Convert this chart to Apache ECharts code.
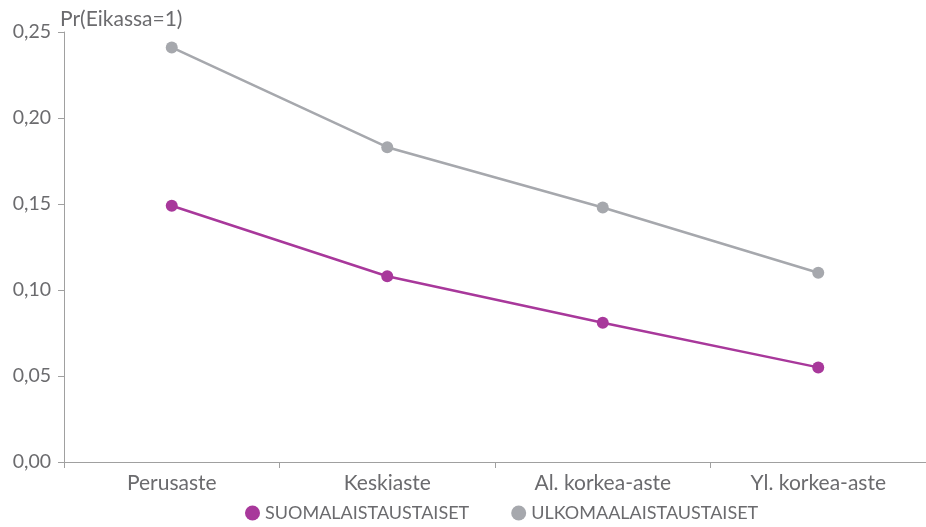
<!DOCTYPE html>
<html><head><meta charset="utf-8">
<script src="https://cdn.jsdelivr.net/npm/echarts@6/dist/echarts.min.js"></script>
<style>html,body{margin:0;padding:0;background:#fff}#c{width:926px;height:527px}</style>
</head><body><div id="c"></div>
<script>
const categories = ['Perusaste', 'Keskiaste', 'Al. korkea-aste', 'Yl. korkea-aste'];
const seriesNames = ['SUOMALAISTAUSTAISET', 'ULKOMAALAISTAUSTAISET'];
const suomalais = [0.149, 0.108, 0.081, 0.055];
const ulkomaalais = [0.241, 0.183, 0.148, 0.110];
const yTicks = [0, 0.05, 0.10, 0.15, 0.20, 0.25];
const yTitle = 'Pr(Eikassa=1)';

const FONT = 'Lato';
const TXT = '#6b6b6e';
const chart = echarts.init(document.getElementById('c'), null, {renderer: 'canvas'});
chart.setOption({
  animation: false,
  textStyle: {fontFamily: FONT},
  grid: {left: 64, right: 0, top: 32, bottom: 65},
  legend: {
    bottom: 0, left: 240, itemGap: 42, icon: 'circle', itemWidth: 15, itemHeight: 15,
    textStyle: {color: TXT, fontSize: 18, fontFamily: FONT},
    data: seriesNames
  },
  xAxis: {
    type: 'category', data: categories, boundaryGap: true,
    axisLine: {lineStyle: {color: '#a0a0a0', width: 1}},
    axisTick: {show: true, length: 6, lineStyle: {color: '#a0a0a0'}},
    axisLabel: {color: TXT, fontSize: 21, margin: 11, fontFamily: FONT}
  },
  yAxis: {
    type: 'value', min: 0, max: yTicks[yTicks.length - 1], interval: 0.05,
    name: yTitle, nameLocation: 'end', nameGap: 2,
    nameTextStyle: {color: TXT, fontSize: 21, align: 'left', padding: [0, 0, 0, -4], fontFamily: FONT},
    splitLine: {show: false},
    axisLine: {show: true, lineStyle: {color: '#a0a0a0', width: 1}},
    axisTick: {show: true, length: 6, lineStyle: {color: '#a0a0a0'}},
    axisLabel: {color: TXT, fontSize: 19.5, margin: 13, fontFamily: FONT,
      formatter: v => v.toFixed(2).replace('.', ',')}
  },
  series: [
    {name: seriesNames[0], type: 'line', data: suomalais, symbol: 'circle', symbolSize: 12,
      itemStyle: {color: '#a8389b'}, lineStyle: {color: '#a8389b', width: 2.5}},
    {name: seriesNames[1], type: 'line', data: ulkomaalais, symbol: 'circle', symbolSize: 12,
      itemStyle: {color: '#a6a8ad'}, lineStyle: {color: '#a6a8ad', width: 2.5}}
  ]
});
</script></body></html>
